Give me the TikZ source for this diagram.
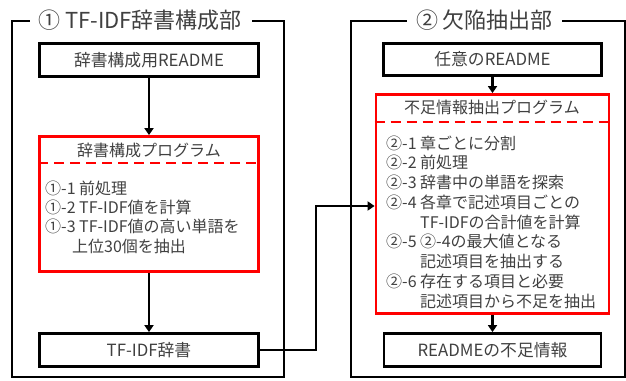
\documentclass[tikz,border=0pt]{standalone}
\usepackage{fontspec}
\setmainfont{Noto Sans CJK JP}
\usetikzlibrary{arrows.meta,calc}
\definecolor{txt}{HTML}{404040}
\begin{document}
\begin{tikzpicture}[x=1pt,y=-1pt, font=\fontsize{16}{19}\selectfont, text=txt,
 frame/.style={line width=1.4pt, draw=black},
 inbox/.style={draw=black, line width=2.8pt, inner sep=0pt, font=\fontsize{16.8}{20}\selectfont},
 progbox/.style={draw=red, line width=2.8pt, inner sep=0pt},
 divider/.style={draw=red, line width=2pt, dash pattern=on 10pt off 6pt},
 conn/.style={line width=2.6pt, -{Triangle[length=7pt,width=9pt]}},
 item/.style={anchor=base west, inner sep=0pt},
 ttl/.style={font=\fontsize{22}{26}\selectfont, inner sep=0pt},
 boxtitle/.style={inner sep=0pt, font=\fontsize{16}{19}\selectfont}]
\useasboundingbox (0,0) rectangle (626,380);

% frames
\node[ttl] (t1) at (140,20) {① TF-IDF辞書構成部};
\node[ttl] (t2) at (484.5,20) {② 欠陥抽出部};
\draw[frame] ([xshift=-8pt]t1.west |- 0,21) -- (12,21) -- (12,377) -- (284,377) -- (284,21) -- ([xshift=10pt]t1.east |- 0,21);
\draw[frame] ([xshift=-9pt]t2.west |- 0,21) -- (351,21) -- (351,377) -- (625,377) -- (625,21) -- ([xshift=9pt]t2.east |- 0,21);

% left column
\node[inbox, minimum width=219pt, minimum height=33pt] (readme1) at (149,60) {辞書構成用README};
\node[progbox, minimum width=219pt, minimum height=135pt] (prog1) at (149,204) {};
\node[boxtitle] (pt1) at (149,150) {辞書構成プログラム};
\coordinate (d1) at (0,163);
\draw[divider] (prog1.west |- d1) -- (prog1.east |- d1);
\node[item] (a1) at (45,194) {①-1 前処理};
\node[item] (a2) at (45,213.4) {①-2 TF-IDF値を計算};
\node[item] (a3) at (45,232.8) {①-3 TF-IDF値の高い単語を};
\node[item] (a4) at (72,252.2) {上位30個を抽出};
\node[inbox, minimum width=219pt, minimum height=33pt] (dict) at (149,350) {TF-IDF辞書};

% right column
\node[inbox, minimum width=218pt, minimum height=32pt] (readme2) at (492.5,59.5) {任意のREADME};
\node[progbox, minimum width=233pt, minimum height=219pt] (prog2) at (492.5,204) {};
\node[boxtitle] (pt2) at (492,107) {不足情報抽出プログラム};
\coordinate (d2) at (0,122);
\draw[divider] (prog2.west |- d2) -- (prog2.east |- d2);
\node[item] (b1) at (386,149) {②-1 章ごとに分割};
\node[item] (b2) at (386,168.75) {②-2 前処理};
\node[item] (b3) at (386,188.5) {②-3 辞書中の単語を探索};
\node[item] (b4) at (386,208.25) {②-4 各章で記述項目ごとの};
\node[item] (b5) at (420,228) {TF-IDFの合計値を計算};
\node[item] (b6) at (386,247.75) {②-5 ②-4の最大値となる};
\node[item] (b7) at (420,267.5) {記述項目を抽出する};
\node[item] (b8) at (386,287.25) {②-6 存在する項目と必要};
\node[item] (b9) at (420,307) {記述項目から不足を抽出};
\node[inbox, minimum width=217pt, minimum height=33pt] (lack) at (492.5,350) {READMEの不足情報};

% connectors
\draw[conn] (readme1) -- (prog1);
\draw[conn] (prog1) -- (dict);
\draw[conn] (readme2) -- (prog2);
\draw[conn] (prog2) -- (lack);
\coordinate (bend) at (316,206);
\draw[conn] (dict.east) -| (bend) -- (bend -| prog2.west);
\end{tikzpicture}
\end{document}
